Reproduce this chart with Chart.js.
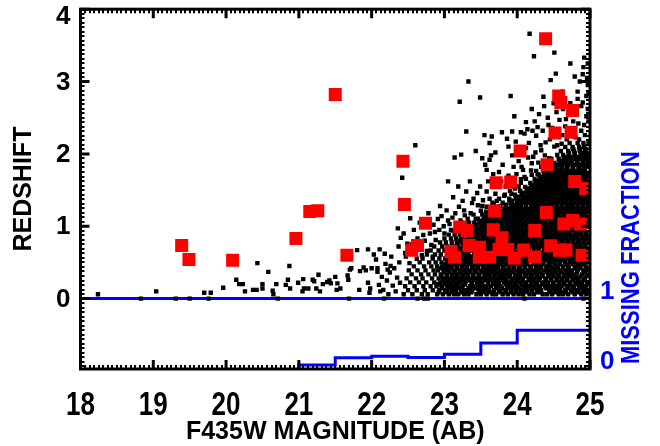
<!DOCTYPE html>
<html><head><meta charset="utf-8">
<script src="https://cdn.jsdelivr.net/npm/chart.js@4.4.1/dist/chart.umd.min.js"></script>
<style>html,body{margin:0;padding:0;background:#fff;}#wrap{width:660px;height:446px;}</style>
</head><body><div id="wrap"><canvas id="c" width="660" height="446"></canvas></div>
<script>
// ---- data ----
const magTicks = [18,19,20,21,22,23,24,25];
const zTicks = [0,1,2,3,4];
const fracTicks = [0,1];
const zMin = -0.973, zMax = 4;
const xTitle = 'F435W MAGNITUDE (AB)';
const yTitle = 'REDSHIFT';
const y2Title = 'MISSING FRACTION';

// missing fraction histogram (bin edges, values)
const missEdges = [21,21.5,22,22.5,23,23.5,24,24.5,25];
const missFrac  = [0.01,0.056,0.16,0.18,0.165,0.21,0.37,0.55];

// red squares [mag, z]
const redPts = [[19.39,0.735],[19.49,0.54],[20.09,0.53],[20.96,0.83],[21.15,1.205],[21.26,1.215],[21.50,2.82],[21.66,0.60],
[22.43,1.90],[22.45,1.30],[22.55,0.67],[22.63,0.735],[22.74,1.04],[23.09,0.65],[23.14,0.57],[23.21,0.99],[23.31,0.94],[23.34,0.735],
[23.48,0.71],[23.48,0.57],[23.62,0.57],[23.67,0.95],[23.69,1.21],[23.71,1.60],[23.75,0.68],[23.79,0.84],[23.87,0.68],[23.91,1.61],
[23.96,0.56],[24.04,2.04],[24.09,0.67],[24.24,0.94],[24.24,0.575],[24.39,3.59],[24.40,1.19],[24.41,1.85],[24.46,0.73],[24.52,2.29],
[24.57,2.80],[24.58,0.67],[24.60,2.71],[24.64,1.03],[24.67,0.67],[24.74,2.30],[24.76,2.60],[24.76,1.08],[24.79,1.62],[24.87,1.03],
[24.89,0.60],[24.94,1.52]];

// scattered black points [mag, z]
const blackSparse = [[18.24,0.06],[18.83,0.0],[19.04,0.10],[19.31,0.0],[19.50,0.0],[19.70,0.08],[19.76,0.0],[19.79,0.08],[19.96,0.15],
[20.14,0.26],[20.18,0.20],[20.23,0.20],[20.26,0.10],[20.37,0.12],[20.42,0.12],[20.43,0.49],[20.50,0.20],[20.50,0.14],[20.58,0.37],
[20.64,0.11],[20.65,0.06],[20.69,0.20],[20.71,0.0],[20.82,0.19],[20.85,0.26],[20.87,0.45],[20.88,0.14],[20.99,0.22],[21.05,0.10],
[21.06,0.27],[21.07,0.14],[21.13,0.14],[21.19,0.26],[21.21,0.24],[21.24,0.14],[21.27,0.33],[21.29,0.10],[21.33,0.20],[21.39,0.23],
[21.42,0.25],[21.44,0.21],[21.50,0.30],[21.52,0.12],[21.53,0.21],[21.57,0.14],[21.67,0.32],[21.68,0.26],[21.69,0.0],[21.70,0.40],
[21.72,0.42],[21.80,0.67],[21.83,0.12],[21.84,0.38],[21.89,0.43],[21.92,0.39],[21.95,0.68],[21.95,0.22],[21.97,0.08],[21.98,0.14],
[22.00,0.42],[22.03,0.61],[22.06,0.54],[22.08,0.42],[22.08,0.37],[22.10,0.19],[22.11,0.68],[22.17,0.0],
[22.14,0.30],[22.16,0.12],[22.19,0.48],[22.21,0.25],[22.23,0.06],[22.25,0.36],[22.27,0.58],[22.29,0.18],[22.31,0.42],[22.33,0.10],
[22.35,0.29],[22.37,0.72],[22.38,0.50],[22.40,0.84],[22.36,0.97],[22.42,1.67],[22.39,0.22],[22.22,0.40],[22.12,0.10],[22.26,0.45],
[22.18,0.62],[22.63,0.0],[22.72,0.0],[22.77,0.0],[24.10,0.0],[24.91,0.0],
[22.55,0.75],[22.63,0.83],[22.46,0.63],[22.87,0.92],[22.91,1.10],[22.99,1.00],[23.05,1.08],[23.09,0.95],[23.15,1.18],[23.28,1.15],
[22.60,2.12],[22.53,1.11],[23.14,1.95],[23.23,1.99],[23.43,2.04],[23.52,1.94],[23.56,1.85],[23.62,1.92],[23.05,1.62],
[23.45,1.46],[23.25,1.35],[23.38,1.32],[23.46,1.29],[23.52,1.28],[23.57,1.20],[23.70,1.45],[23.78,1.62],[23.75,1.75],[23.84,1.55],
[23.88,1.70],[23.95,1.82],[24.02,1.90],[24.08,1.78],[24.15,1.95],[24.12,2.08],[24.20,1.87],[24.25,2.02],[24.32,2.12],[24.38,1.98],
[24.45,2.20],[24.50,2.28],[24.55,2.12],[24.62,2.26],[24.68,2.20],[24.75,2.30],[24.80,2.23],[24.88,2.32],[24.93,2.26],[24.40,1.82],
[24.05,1.65],[23.92,1.45],[24.28,1.72],[23.68,1.30],[23.62,1.38],
[24.17,3.66],[24.23,3.35],[24.51,3.40],[24.73,3.25],[24.92,3.33],[24.91,3.20],[24.53,3.11],[24.79,3.07],[24.90,3.10],[24.46,3.02],
[23.33,3.00],[23.21,2.72],[23.49,2.78],[23.91,2.80],[24.36,2.79],[24.83,2.86],[24.90,2.71],[23.96,2.52],[24.37,2.66],[24.12,2.44],
[24.24,2.45],[23.30,2.31],[23.55,2.26],[23.65,2.24],[23.62,2.15],[23.79,2.30],[23.86,2.21],[23.93,2.31],[23.98,2.17],[24.05,2.30],
[24.14,2.34],[24.21,2.32],[24.28,2.37],[24.43,2.40],[24.58,2.47],[24.66,2.38],[24.84,2.42],[24.95,2.52],[24.70,2.56],[24.97,2.95],
[24.86,3.00],[24.97,3.25],[24.96,3.05],[24.98,2.85],[24.97,2.62],[24.98,2.45],
[22.47,0.58],[22.52,0.49],[22.58,0.66],[22.62,0.55],[22.67,0.71],[22.69,0.60],[22.73,0.80],[22.76,0.66],[22.80,0.90],[22.82,0.74],
[22.85,1.02],[22.88,0.81],[22.93,0.95],[22.96,1.14],[23.00,0.90],[23.03,1.22],[23.07,1.03],[23.11,1.12],[23.17,0.98],[23.20,1.27],
[22.58,0.95],[22.66,1.05],[22.71,0.88],[22.49,0.76],[22.44,0.90],[22.78,1.18],[23.12,1.40],[22.94,1.28],[22.84,0.58],
[23.22,1.08],[23.27,1.22],[23.33,1.05],[23.36,1.18],[23.40,1.38],[23.43,1.10],[23.49,1.55],[23.53,1.36],[23.58,1.48],[23.60,1.62],
[23.64,1.26],[23.67,1.72],[23.72,1.35],[23.74,1.55],[23.77,1.28],[23.80,1.85],[23.82,1.42],[23.86,1.62],[23.89,1.36],[23.93,1.98],
[23.97,1.52],[23.99,1.72],[23.35,1.62],[23.30,1.48],[23.19,1.55],[23.58,1.78],[23.70,2.02],[23.88,2.10],[23.64,1.98],[23.83,1.24],
[24.02,1.55],[24.06,1.82],[24.10,1.68],[24.14,1.52],[24.16,2.15],[24.19,1.77],[24.22,1.96],[24.26,2.25],[24.29,1.88],[24.33,2.05],
[24.35,2.32],[24.39,2.16],[24.42,2.50],[24.44,1.94],[24.48,2.36],[24.51,2.10],[24.54,2.58],[24.57,2.30],[24.61,2.14],[24.63,2.62],
[24.67,2.48],[24.71,2.30],[24.73,2.70],[24.77,2.45],[24.81,2.58],[24.85,2.20],[24.88,2.66],[24.92,2.40],[24.95,2.80],[24.83,2.76],
[24.62,2.86],[24.50,2.70],[24.30,2.55],[24.10,2.28],[24.20,2.62],[24.00,2.05]];

// dense black band, read row by row: row redshift and the magnitudes in that row
const rowZ = [0.06,0.115,0.17,0.225,0.28,0.335,0.39,0.445,0.50,0.555,0.61,0.665,0.72,0.775,0.83,0.885,0.94,0.995,1.05,1.105,
1.16,1.215,1.27,1.325,1.38,1.435,1.49,1.545,1.60,1.655,1.71,1.765,1.82,1.875,1.93,1.985,2.04,2.095,2.15];
const rowMags = [
[22.44,22.56,22.69,22.77,22.90,22.98,23.06,23.13,23.19,23.27,23.33,23.44,23.50,23.58,23.66,23.71,23.80,23.87,23.95,24.02,24.08,24.17,24.23,24.35,24.41,24.48,24.57,24.63,24.70,24.79,24.88,24.95],
[22.50,22.62,22.73,22.84,22.93,23.01,23.10,23.16,23.24,23.30,23.38,23.47,23.54,23.61,23.68,23.75,23.84,23.91,23.98,24.05,24.11,24.20,24.28,24.33,24.44,24.51,24.55,24.66,24.74,24.82,24.90,24.97],
[22.46,22.59,22.71,22.81,22.89,22.96,23.04,23.12,23.17,23.25,23.35,23.40,23.49,23.55,23.64,23.72,23.77,23.86,23.93,24.00,24.09,24.14,24.22,24.30,24.38,24.45,24.53,24.61,24.68,24.76,24.85,24.92],
[22.53,22.65,22.75,22.86,22.94,23.02,23.08,23.15,23.22,23.29,23.37,23.45,23.51,23.60,23.67,23.74,23.82,23.88,23.96,24.03,24.12,24.19,24.25,24.36,24.42,24.50,24.58,24.64,24.72,24.80,24.87,24.96],
[22.48,22.61,22.70,22.83,22.92,23.00,23.07,23.14,23.20,23.28,23.36,23.43,23.52,23.58,23.65,23.73,23.79,23.85,23.94,24.01,24.07,24.16,24.24,24.31,24.39,24.47,24.54,24.62,24.69,24.78,24.84,24.93],
[22.55,22.68,22.78,22.87,22.95,23.03,23.11,23.18,23.26,23.32,23.39,23.48,23.56,23.62,23.70,23.76,23.83,23.90,23.97,24.04,24.13,24.21,24.27,24.34,24.43,24.49,24.56,24.65,24.71,24.77,24.89,24.98],
[22.51,22.63,22.74,22.85,22.91,22.99,23.05,23.13,23.21,23.27,23.34,23.42,23.50,23.57,23.63,23.69,23.78,23.85,23.92,24.00,24.06,24.15,24.22,24.29,24.37,24.44,24.52,24.59,24.67,24.75,24.83,24.91],
[22.58,22.72,22.82,22.90,22.97,23.04,23.10,23.17,23.24,23.31,23.40,23.46,23.53,23.61,23.68,23.74,23.81,23.89,23.95,24.03,24.10,24.18,24.26,24.32,24.40,24.46,24.55,24.63,24.70,24.81,24.86,24.94],
[22.66,22.79,22.88,22.96,23.03,23.09,23.16,23.23,23.30,23.38,23.44,23.51,23.59,23.66,23.72,23.80,23.87,23.93,24.01,24.08,24.14,24.23,24.30,24.36,24.45,24.50,24.58,24.66,24.73,24.79,24.88,24.96],
[22.70,22.84,22.93,23.01,23.08,23.14,23.22,23.29,23.35,23.43,23.50,23.57,23.64,23.71,23.77,23.84,23.91,23.99,24.06,24.12,24.20,24.27,24.35,24.41,24.48,24.56,24.62,24.69,24.77,24.84,24.92],
[22.76,22.87,22.95,23.05,23.12,23.19,23.26,23.33,23.41,23.47,23.55,23.62,23.69,23.75,23.82,23.90,23.96,24.04,24.11,24.17,24.25,24.33,24.39,24.47,24.54,24.60,24.67,24.75,24.82,24.90,24.97],
[22.81,22.92,23.00,23.07,23.15,23.22,23.28,23.37,23.45,23.52,23.60,23.66,23.73,23.79,23.86,23.94,24.02,24.09,24.15,24.23,24.29,24.37,24.44,24.51,24.59,24.65,24.72,24.80,24.87,24.95],
[22.86,22.97,23.04,23.11,23.18,23.25,23.34,23.40,23.48,23.56,23.63,23.70,23.76,23.84,23.92,23.98,24.05,24.13,24.20,24.26,24.34,24.42,24.49,24.57,24.63,24.70,24.78,24.85,24.93],
[22.94,23.02,23.10,23.17,23.24,23.31,23.39,23.46,23.54,23.61,23.67,23.74,23.81,23.89,23.96,24.03,24.10,24.18,24.24,24.32,24.40,24.46,24.53,24.61,24.68,24.76,24.83,24.91,24.98],
[23.00,23.09,23.16,23.23,23.32,23.38,23.45,23.53,23.59,23.65,23.73,23.80,23.87,23.95,24.01,24.08,24.16,24.22,24.30,24.38,24.45,24.52,24.58,24.66,24.74,24.81,24.89,24.96],
[23.06,23.14,23.21,23.29,23.36,23.44,23.51,23.58,23.64,23.72,23.79,23.86,23.93,24.00,24.07,24.14,24.21,24.28,24.36,24.43,24.50,24.57,24.64,24.71,24.79,24.86,24.94],
[23.12,23.20,23.27,23.35,23.43,23.49,23.57,23.63,23.71,23.78,23.85,23.92,23.99,24.06,24.13,24.19,24.27,24.35,24.41,24.48,24.55,24.63,24.70,24.77,24.84,24.92],
[23.18,23.26,23.33,23.42,23.50,23.56,23.62,23.69,23.77,23.83,23.90,23.97,24.04,24.11,24.18,24.25,24.33,24.40,24.47,24.53,24.60,24.68,24.75,24.82,24.90,24.97],
[23.24,23.34,23.41,23.48,23.55,23.61,23.68,23.76,23.82,23.89,23.96,24.03,24.09,24.17,24.24,24.31,24.38,24.46,24.52,24.59,24.67,24.73,24.80,24.88,24.95],
[23.32,23.46,23.54,23.60,23.67,23.74,23.81,23.88,23.94,24.02,24.08,24.15,24.22,24.29,24.37,24.44,24.51,24.58,24.65,24.72,24.79,24.86,24.93],
[23.40,23.52,23.59,23.66,23.73,23.80,23.87,23.95,24.01,24.07,24.14,24.21,24.28,24.35,24.42,24.49,24.56,24.64,24.71,24.78,24.85,24.92],
[23.50,23.63,23.72,23.79,23.86,23.93,24.00,24.06,24.13,24.20,24.27,24.34,24.41,24.48,24.55,24.62,24.69,24.76,24.84,24.91,24.98],
[23.58,23.71,23.84,23.92,23.99,24.05,24.12,24.19,24.26,24.33,24.40,24.47,24.54,24.61,24.68,24.75,24.83,24.90,24.97],
[23.66,23.80,23.91,24.00,24.08,24.16,24.23,24.30,24.38,24.45,24.52,24.59,24.66,24.74,24.81,24.88,24.95],
[23.75,23.89,23.98,24.07,24.15,24.22,24.29,24.36,24.43,24.50,24.57,24.65,24.72,24.79,24.87,24.94],
[23.83,23.97,24.06,24.14,24.21,24.28,24.35,24.42,24.49,24.56,24.63,24.70,24.78,24.85,24.93],
[23.90,24.04,24.13,24.20,24.27,24.34,24.41,24.48,24.55,24.62,24.69,24.77,24.84,24.91,24.98],
[23.96,24.11,24.19,24.26,24.33,24.40,24.47,24.54,24.61,24.68,24.76,24.83,24.90,24.97],
[24.05,24.18,24.25,24.32,24.39,24.46,24.53,24.60,24.67,24.75,24.82,24.89,24.96],
[24.12,24.24,24.31,24.38,24.45,24.52,24.59,24.66,24.74,24.81,24.88,24.95],
[24.20,24.30,24.37,24.44,24.51,24.58,24.65,24.73,24.80,24.87,24.94],
[24.26,24.36,24.43,24.50,24.57,24.64,24.72,24.79,24.86,24.93],
[24.33,24.45,24.52,24.60,24.68,24.76,24.84,24.91,24.98],
[24.40,24.51,24.58,24.66,24.74,24.82,24.90,24.97],
[24.47,24.57,24.64,24.72,24.80,24.88,24.95],
[24.55,24.63,24.71,24.79,24.87,24.94],
[24.60,24.70,24.78,24.86,24.93],
[24.66,24.76,24.85,24.92],
[24.72,24.83,24.91,24.98]];

// second pass through the dense core, rows in between the first ones
const rowZ2 = [0.088,0.143,0.198,0.253,0.308,0.363,0.418,0.473,0.528,0.583,0.638,0.693,0.748,0.803,0.858,0.913,0.968,1.023,1.078,1.133,
1.188,1.243,1.298,1.353,1.408,1.463,1.518,1.573,1.628,1.683,1.738,1.793,1.848,1.903,1.958,2.013,2.068];
const rowMags2 = [
[22.92,23.04,23.11,23.23,23.31,23.37,23.49,23.56,23.63,23.77,23.84,23.92,23.99,24.06,24.14,24.27,24.32,24.45,24.53,24.60,24.67,24.76,24.84,24.92],
[22.97,23.06,23.14,23.21,23.33,23.43,23.51,23.58,23.71,23.79,23.88,23.95,24.03,24.16,24.24,24.31,24.40,24.48,24.59,24.70,24.78,24.86,24.94],
[22.91,23.00,23.09,23.19,23.28,23.38,23.46,23.52,23.60,23.69,23.75,23.84,23.90,23.97,24.06,24.12,24.19,24.27,24.34,24.42,24.49,24.57,24.65,24.73,24.82,24.89,24.98],
[22.98,23.05,23.12,23.19,23.25,23.33,23.41,23.48,23.56,23.63,23.71,23.78,23.85,23.92,24.00,24.08,24.16,24.22,24.30,24.39,24.46,24.55,24.61,24.68,24.76,24.84,24.91],
[22.96,23.04,23.11,23.17,23.24,23.32,23.40,23.47,23.55,23.61,23.68,23.76,23.82,23.89,23.98,24.04,24.11,24.19,24.28,24.35,24.43,24.50,24.58,24.65,24.73,24.81,24.87,24.95],
[22.99,23.07,23.15,23.22,23.29,23.36,23.44,23.52,23.59,23.66,23.73,23.80,23.87,23.94,24.02,24.09,24.17,24.25,24.31,24.40,24.47,24.53,24.61,24.69,24.74,24.82,24.93],
[22.95,23.02,23.09,23.17,23.24,23.30,23.38,23.46,23.54,23.60,23.66,23.73,23.81,23.88,23.96,24.03,24.11,24.19,24.26,24.33,24.41,24.49,24.56,24.63,24.71,24.79,24.87,24.96],
[23.01,23.07,23.14,23.20,23.27,23.35,23.42,23.49,23.57,23.64,23.70,23.77,23.85,23.91,23.99,24.06,24.13,24.22,24.28,24.35,24.43,24.52,24.59,24.68,24.76,24.84,24.91],
[23.06,23.12,23.19,23.26,23.33,23.40,23.47,23.54,23.61,23.68,23.75,23.81,23.88,23.96,24.03,24.10,24.17,24.24,24.32,24.39,24.45,24.53,24.60,24.66,24.73,24.81,24.88,24.95],
[23.09,23.16,23.23,23.30,23.37,23.44,23.51,23.59,23.66,23.72,23.79,23.86,23.93,24.00,24.08,24.14,24.22,24.29,24.36,24.44,24.50,24.57,24.64,24.71,24.79,24.86,24.94],
[23.11,23.19,23.25,23.32,23.41,23.48,23.56,23.63,23.70,23.76,23.83,23.91,23.98,24.05,24.12,24.19,24.26,24.33,24.41,24.48,24.55,24.62,24.69,24.77,24.84,24.91,24.98],
[23.14,23.21,23.29,23.37,23.44,23.52,23.59,23.66,23.73,23.80,23.88,23.95,24.02,24.09,24.16,24.23,24.30,24.38,24.45,24.53,24.60,24.67,24.74,24.81,24.89,24.96],
[23.18,23.27,23.35,23.43,23.50,23.57,23.64,23.71,23.78,23.85,23.92,23.99,24.07,24.14,24.21,24.29,24.36,24.43,24.50,24.57,24.64,24.72,24.79,24.87,24.94],
[23.20,23.28,23.35,23.42,23.49,23.56,23.62,23.69,23.77,23.84,23.91,23.98,24.05,24.12,24.19,24.26,24.34,24.41,24.48,24.55,24.62,24.70,24.77,24.85,24.92],
[23.25,23.33,23.40,23.47,23.55,23.62,23.68,23.75,23.83,23.90,23.97,24.04,24.11,24.18,24.25,24.32,24.40,24.47,24.54,24.61,24.68,24.75,24.83,24.90,24.97],
[23.31,23.39,23.46,23.53,23.60,23.67,23.74,23.81,23.88,23.95,24.02,24.09,24.16,24.23,24.31,24.38,24.45,24.52,24.59,24.66,24.73,24.81,24.88,24.95],
[23.37,23.45,23.53,23.59,23.66,23.73,23.80,23.87,23.94,24.01,24.08,24.15,24.22,24.29,24.36,24.44,24.51,24.57,24.64,24.71,24.79,24.86,24.93],
[23.44,23.51,23.58,23.65,23.72,23.79,23.86,23.93,24.00,24.06,24.13,24.21,24.28,24.35,24.42,24.49,24.56,24.63,24.70,24.77,24.84,24.91,24.98],
[23.50,23.57,23.64,23.71,23.78,23.85,23.91,23.98,24.05,24.12,24.19,24.26,24.33,24.40,24.47,24.55,24.62,24.69,24.76,24.83,24.90,24.97],
[23.56,23.63,23.70,23.77,23.84,23.91,23.98,24.04,24.11,24.18,24.25,24.32,24.39,24.46,24.53,24.60,24.67,24.74,24.81,24.89,24.96],
[23.66,23.76,23.83,23.90,23.97,24.03,24.10,24.17,24.24,24.31,24.38,24.45,24.52,24.59,24.66,24.73,24.80,24.87,24.94],
[23.74,23.88,23.95,24.02,24.09,24.16,24.23,24.30,24.37,24.44,24.51,24.58,24.65,24.72,24.79,24.86,24.93],
[23.85,23.96,24.04,24.12,24.20,24.27,24.34,24.41,24.48,24.55,24.62,24.70,24.77,24.84,24.91,24.98],
[23.93,24.03,24.11,24.19,24.26,24.33,24.40,24.47,24.54,24.61,24.68,24.75,24.83,24.90,24.97],
[24.01,24.10,24.18,24.25,24.32,24.39,24.46,24.53,24.60,24.67,24.74,24.82,24.89,24.96],
[24.08,24.16,24.24,24.31,24.38,24.45,24.52,24.59,24.66,24.73,24.80,24.88,24.95],
[24.15,24.23,24.30,24.37,24.44,24.51,24.58,24.65,24.72,24.79,24.87,24.94],
[24.21,24.29,24.36,24.43,24.50,24.57,24.64,24.71,24.78,24.86,24.93],
[24.28,24.35,24.42,24.49,24.56,24.63,24.70,24.77,24.85,24.92],
[24.34,24.41,24.48,24.55,24.62,24.69,24.76,24.84,24.91,24.98],
[24.40,24.47,24.54,24.61,24.68,24.75,24.83,24.90,24.97],
[24.47,24.54,24.62,24.69,24.77,24.85,24.92],
[24.55,24.62,24.70,24.78,24.86,24.94],
[24.60,24.68,24.75,24.83,24.91,24.98],
[24.67,24.74,24.82,24.90,24.97],
[24.71,24.79,24.88,24.95],
[24.77,24.86,24.94]];

// ---- build datasets ----
const redData = redPts.map(p => ({x:p[0], y:p[1]}));
const blackData = blackSparse.map(p => ({x:p[0], y:p[1]}));
rowZ.forEach((z,i) => rowMags[i].forEach(m => blackData.push({x:m, y:z})));
rowZ2.forEach((z,i) => rowMags2[i].forEach(m => blackData.push({x:m, y:z})));
const missData = missFrac.map((f,i) => ({x:missEdges[i], y:f}));
missData.push({x:missEdges[missEdges.length-1], y:missFrac[missFrac.length-1]});
const zeroData = [{x:magTicks[0], y:0},{x:magTicks[magTicks.length-1], y:0}];

const BLUE = '#0000ff';
const FAM = '"Liberation Sans", Arial, sans-serif';
const XTICKFONT = 'bold 26px ' + FAM;
const YTICKFONT = 'bold 26px ' + FAM;
const TITLEFONT = 'bold 25px ' + FAM;

function stretchedText(ctx, txt, x, y, sx, sy) {
  ctx.save();
  ctx.translate(x, y);
  ctx.scale(sx, sy);
  ctx.fillText(txt, 0, 0);
  ctx.restore();
}

const framePlugin = {
  id: 'frame',
  afterDraw(chart) {
    const {ctx, chartArea: a} = chart;
    const xs = chart.scales.x, ys = chart.scales.y, y2 = chart.scales.y2;
    ctx.save();
    ctx.strokeStyle = '#000';
    ctx.lineWidth = 2;
    ctx.beginPath();
    const x0 = magTicks[0], x1 = magTicks[magTicks.length-1];
    for (let k = x0*16; k <= x1*16; k++) {
      if (k % 16 === 0) continue;
      const px = Math.round(xs.getPixelForValue(k/16));
      ctx.moveTo(px, a.bottom); ctx.lineTo(px, a.bottom - 4);
      ctx.moveTo(px, a.top); ctx.lineTo(px, a.top + 4);
    }
    for (let k = Math.ceil(zMin*16); k <= zMax*16; k++) {
      if (k % 16 === 0) continue;
      const py = Math.round(ys.getPixelForValue(k/16));
      ctx.moveTo(a.left, py); ctx.lineTo(a.left + 4, py);
      ctx.moveTo(a.right, py); ctx.lineTo(a.right - 4, py);
    }
    ctx.stroke();
    ctx.lineWidth = 3;
    ctx.beginPath();
    magTicks.forEach(v => {
      const px = xs.getPixelForValue(v);
      ctx.moveTo(px, a.bottom); ctx.lineTo(px, a.bottom - 9);
      ctx.moveTo(px, a.top); ctx.lineTo(px, a.top + 9);
    });
    zTicks.forEach(v => {
      const py = ys.getPixelForValue(v);
      ctx.moveTo(a.left, py); ctx.lineTo(a.left + 9, py);
      ctx.moveTo(a.right, py); ctx.lineTo(a.right - 9, py);
    });
    ctx.stroke();
    ctx.lineWidth = 3;
    ctx.strokeRect(a.left, a.top, a.right - a.left, a.bottom - a.top);

    // tick labels
    ctx.fillStyle = '#000';
    ctx.textBaseline = 'middle';
    ctx.font = XTICKFONT;
    ctx.textAlign = 'center';
    magTicks.forEach(v => stretchedText(ctx, String(v), xs.getPixelForValue(v), a.bottom + 37, 1, 1.25));
    ctx.font = YTICKFONT;
    ctx.textAlign = 'right';
    zTicks.forEach(v => ctx.fillText(String(v), a.left - 10, Math.max(ys.getPixelForValue(v) + 1, 17)));
    ctx.fillStyle = BLUE;
    ctx.textAlign = 'left';
    fracTicks.forEach(v => ctx.fillText(String(v), a.right + 10, y2.getPixelForValue(v) - 7));

    // axis titles
    ctx.font = TITLEFONT;
    ctx.fillStyle = '#000';
    ctx.textAlign = 'center';
    ctx.fillText(xTitle, (a.left + a.right)/2, a.bottom + 63);
    ctx.save();
    ctx.translate(24, (a.top + a.bottom)/2);
    ctx.rotate(-Math.PI/2);
    ctx.fillText(yTitle, 0, 0);
    ctx.restore();
    ctx.save();
    ctx.fillStyle = BLUE;
    ctx.translate(a.right + 42, y2.getPixelForValue(1.58));
    ctx.rotate(-Math.PI/2);
    ctx.scale(0.88, 1);
    ctx.fillText(y2Title, 0, 0);
    ctx.restore();
    ctx.restore();
  }
};

const hidden = {display:false};
new Chart(document.getElementById('c'), {
  type: 'scatter',
  data: {datasets: [
    {label:'red', data:redData, pointStyle:'rect', pointRadius:9.2, pointHoverRadius:9.2,
     pointBackgroundColor:'#ff0000', backgroundColor:'#ff0000', pointBorderWidth:0, borderWidth:0, order:0},
    {label:'black', data:blackData, pointStyle:'rect', pointRadius:3.1, pointHoverRadius:3.1,
     pointBackgroundColor:'#000', backgroundColor:'#000', pointBorderWidth:0, borderWidth:0, order:1},
    {label:'zero', type:'line', data:zeroData, borderColor:BLUE, borderWidth:3, pointRadius:0, fill:false, order:2},
    {label:'missing', type:'line', data:missData, yAxisID:'y2', stepped:'after', borderColor:BLUE, borderWidth:3,
     pointRadius:0, fill:false, order:2}
  ]},
  options: {
    responsive:false, animation:false, devicePixelRatio:1, events:[],
    layout:{padding:{top:6, left:0, right:0, bottom:0}},
    plugins:{legend:hidden, tooltip:{enabled:false}},
    scales: {
      x: {type:'linear', position:'bottom', min:magTicks[0], max:magTicks[magTicks.length-1],
          ticks:hidden, grid:hidden, border:hidden, afterFit(s){ s.height = 77; }},
      y: {type:'linear', position:'left', min:zMin, max:zMax,
          ticks:hidden, grid:hidden, border:hidden, afterFit(s){ s.width = 80.5; }},
      y2: {type:'linear', position:'right', min:0, max:(zMax - zMin)/(0 - zMin),
          ticks:hidden, grid:hidden, border:hidden, afterFit(s){ s.width = 70; }}
    }
  },
  plugins:[framePlugin]
});
</script></body></html>
